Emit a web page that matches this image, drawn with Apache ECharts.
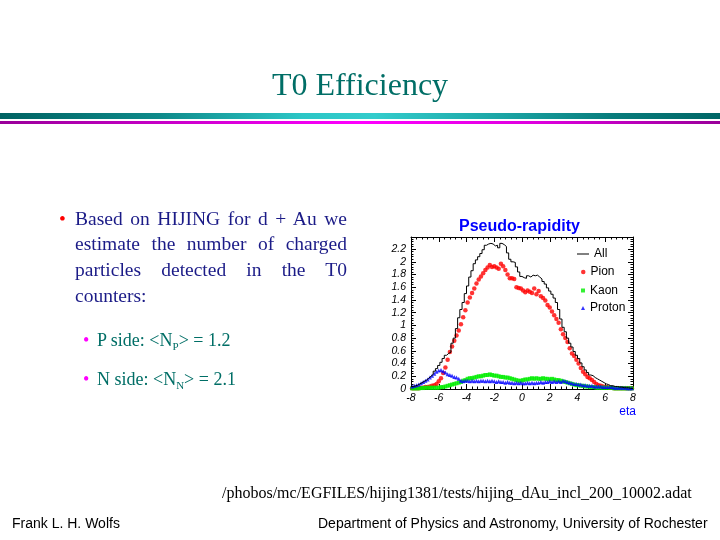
<!doctype html>
<html>

<head>
	<meta charset="utf-8">
	<style>
		html, body { margin: 0; padding: 0; background: #fff; }
		#slide { position: relative; width: 720px; height: 540px; overflow: hidden; }
		#chart { position: absolute; left: 0; top: 0; width: 720px; height: 540px; }
		.t { position: absolute; white-space: nowrap; line-height: 1; }
		.serif { font-family: "Liberation Serif", "Times New Roman", serif; }
		.sans { font-family: "Liberation Sans", Arial, sans-serif; }
		.bar1 { position: absolute; left: 0; top: 113px; width: 720px; height: 6px;
			background: linear-gradient(to right, #006262 0%, #0e8a8a 22%, #2cc6c6 42%, #33cccc 52%, #1aa4a4 70%, #087c7c 85%, #006666 100%); }
		.bar2 { position: absolute; left: 0; top: 121px; width: 720px; height: 3px;
			background: linear-gradient(to right, #990099 0%, #cc00cc 25%, #ff00ff 50%, #dd00dd 75%, #990099 100%); }
		.just { position: absolute; left: 75px; width: 272px; font-size: 19.5px; line-height: 1;
			color: #1b1b87; text-align: justify; text-align-last: justify; white-space: normal; }
		.sub { color: #006e66; font-size: 18px; }
	</style>
</head>

<body>
	<div id="slide">
		<div id="chart"></div>

		<div class="t serif" style="left:0;width:720px;text-align:center;top:68px;font-size:32px;color:#006e66">T0 Efficiency</div>
		<div class="bar1"></div>
		<div class="bar2"></div>

		<div class="t serif" style="left:59px;top:208.7px;font-size:19.5px;color:#ff0000">&bull;</div>
		<div class="just serif" style="top:208.7px">Based on HIJING for d + Au we</div>
		<div class="just serif" style="top:234.4px">estimate the number of charged</div>
		<div class="just serif" style="top:260.4px">particles detected in the T0</div>
		<div class="t serif" style="left:75px;top:286.4px;font-size:19.5px;color:#1b1b87">counters:</div>

		<div class="t serif" style="left:83px;top:330.6px;font-size:18px;color:#ff00ff">&bull;</div>
		<div class="t serif sub" style="left:97px;top:330.6px">P side: &lt;N<span style="font-size:11px;vertical-align:-4px">P</span>&gt; = 1.2</div>
		<div class="t serif" style="left:83px;top:369.9px;font-size:18px;color:#ff00ff">&bull;</div>
		<div class="t serif sub" style="left:97px;top:369.9px">N side: &lt;N<span style="font-size:11px;vertical-align:-4px">N</span>&gt; = 2.1</div>

		<div class="t serif" style="left:222px;top:484.6px;font-size:16px;color:#000">/phobos/mc/EGFILES/hijing1381/tests/hijing_dAu_incl_200_10002.adat</div>
		<div class="t sans" style="left:12px;top:516px;font-size:14px;color:#000">Frank L. H. Wolfs</div>
		<div class="t sans" style="left:318px;top:516px;font-size:14px;color:#000">Department of Physics and Astronomy, University of Rochester</div>
	</div>
</body>
<script src="https://cdn.jsdelivr.net/npm/echarts@6.0.0/dist/echarts.min.js"></script>

<script type="text/javascript">
	// histogram range (eta), 100 bins
	var ETA_MIN = -8;
	var ETA_MAX = 8;

	var allCounts = [
		0.04, 0.05, 0.06, 0.08, 0.10, 0.12, 0.14, 0.17, 0.20, 0.23,
		0.28, 0.32, 0.37, 0.42, 0.48, 0.53, 0.56, 0.58, 0.72, 0.80,
		0.95, 1.12, 1.25, 1.36, 1.50, 1.62, 1.76, 1.86, 1.97, 2.03,
		2.08, 2.13, 2.19, 2.26, 2.28, 2.29, 2.28, 2.25, 2.26, 2.22,
		2.29, 2.27, 2.24, 2.14, 2.04, 2.00, 1.99, 1.92, 1.84, 1.77,
		1.75, 1.74, 1.78, 1.76, 1.79, 1.78, 1.79, 1.76, 1.73, 1.69,
		1.65, 1.59, 1.54, 1.49, 1.43, 1.36, 1.25, 1.10, 0.97, 0.90,
		0.80, 0.72, 0.66, 0.59, 0.53, 0.48, 0.41, 0.35, 0.30, 0.26,
		0.22, 0.21, 0.18, 0.16, 0.14, 0.12, 0.10, 0.08, 0.07, 0.05,
		0.05, 0.04, 0.04, 0.03, 0.03, 0.02, 0.02, 0.02, 0.01, 0.01
	];
	var pionCounts = [
		0.01, 0.01, 0.01, 0.01, 0.02, 0.02, 0.03, 0.03, 0.04, 0.05,
		0.06, 0.08, 0.12, 0.17, 0.25, 0.34, 0.46, 0.58, 0.67, 0.76,
		0.84, 0.92, 1.02, 1.13, 1.24, 1.36, 1.44, 1.51, 1.58, 1.66,
		1.72, 1.77, 1.82, 1.87, 1.91, 1.95, 1.92, 1.93, 1.91, 1.89,
		1.97, 1.93, 1.87, 1.80, 1.74, 1.74, 1.73, 1.60, 1.59, 1.58,
		1.55, 1.52, 1.55, 1.53, 1.51, 1.58, 1.49, 1.54, 1.46, 1.43,
		1.39, 1.32, 1.28, 1.22, 1.16, 1.10, 1.04, 0.94, 0.86, 0.80,
		0.74, 0.64, 0.56, 0.52, 0.46, 0.40, 0.33, 0.27, 0.23, 0.19,
		0.17, 0.14, 0.11, 0.08, 0.06, 0.05, 0.04, 0.03, 0.03, 0.02,
		0.02, 0.01, 0.01, 0.01, 0.01, 0.01, 0.01, 0.01, 0.01, 0.01
	];
	var kaonCounts = [
		0.01, 0.01, 0.01, 0.01, 0.015, 0.015, 0.02, 0.02, 0.02, 0.02,
		0.02, 0.02, 0.02, 0.03, 0.03, 0.04, 0.05, 0.06, 0.07, 0.08,
		0.09, 0.10, 0.11, 0.13, 0.14, 0.16, 0.17, 0.17, 0.18, 0.19,
		0.20, 0.20, 0.21, 0.22, 0.22, 0.23, 0.22, 0.21, 0.21, 0.20,
		0.19, 0.19, 0.18, 0.18, 0.17, 0.16, 0.15, 0.14, 0.13, 0.13,
		0.14, 0.15, 0.15, 0.16, 0.17, 0.16, 0.17, 0.16, 0.16, 0.17,
		0.16, 0.16, 0.15, 0.16, 0.15, 0.14, 0.14, 0.13, 0.12, 0.11,
		0.10, 0.09, 0.08, 0.07, 0.06, 0.06, 0.05, 0.05, 0.04, 0.04,
		0.03, 0.03, 0.03, 0.02, 0.02, 0.02, 0.02, 0.02, 0.02, 0.02,
		0.02, 0.01, 0.01, 0.01, 0.01, 0.01, 0.01, 0.01, 0.01, 0.01
	];
	var protonCounts = [
		0.04, 0.05, 0.06, 0.07, 0.09, 0.11, 0.13, 0.15, 0.18, 0.21,
		0.24, 0.27, 0.29, 0.30, 0.28, 0.26, 0.23, 0.22, 0.21, 0.19,
		0.18, 0.16, 0.13, 0.12, 0.13, 0.13, 0.12, 0.13, 0.12, 0.13,
		0.12, 0.13, 0.13, 0.12, 0.13, 0.12, 0.13, 0.12, 0.11, 0.12,
		0.11, 0.11, 0.10, 0.11, 0.10, 0.10, 0.09, 0.10, 0.09, 0.10,
		0.09, 0.09, 0.10, 0.09, 0.10, 0.09, 0.10, 0.10, 0.11, 0.10,
		0.11, 0.11, 0.12, 0.11, 0.12, 0.11, 0.12, 0.11, 0.13, 0.12,
		0.11, 0.10, 0.09, 0.08, 0.08, 0.07, 0.07, 0.06, 0.06, 0.05,
		0.05, 0.05, 0.04, 0.04, 0.04, 0.04, 0.03, 0.03, 0.03, 0.03,
		0.03, 0.02, 0.02, 0.02, 0.02, 0.02, 0.02, 0.01, 0.01, 0.01
	];

	var binWidth = (ETA_MAX - ETA_MIN) / allCounts.length;

	// step outline: each bin gives a flat segment from its low to its high edge
	function histSteps(counts) {
		var pts = [];
		counts.forEach(function(v, i) {
			var lo = ETA_MIN + i * binWidth;
			pts.push([lo, v], [lo + binWidth, v]);
		});
		return pts;
	}
	function binPoints(counts) {
		return counts.map(function(v, i) {
			return [ETA_MIN + (i + 0.5) * binWidth, v];
		});
	}

	var labelFont = {
		color: '#000',
		fontFamily: 'Liberation Sans',
		fontStyle: 'italic',
		fontSize: 10.5
	};
	var tickStyle = { color: '#000', width: 1 };

	function xAxisOpt(pos, withLabels) {
		return {
			type: 'value',
			position: pos,
			min: ETA_MIN,
			max: ETA_MAX,
			interval: 2,
			axisLine: { show: true, onZero: false, lineStyle: tickStyle },
			axisTick: { show: true, inside: true, length: 5, lineStyle: tickStyle },
			minorTick: { show: true, splitNumber: 5, length: 2.5, lineStyle: tickStyle },
			splitLine: { show: false },
			axisLabel: Object.assign({ show: withLabels, margin: 4 }, labelFont)
		};
	}
	function yAxisOpt(pos, withLabels) {
		return {
			type: 'value',
			position: pos,
			min: 0,
			max: 2.39,
			interval: 0.2,
			axisLine: { show: true, onZero: false, lineStyle: tickStyle },
			axisTick: { show: true, inside: true, length: 5, lineStyle: tickStyle },
			minorTick: { show: true, splitNumber: 5, length: 2.5, lineStyle: tickStyle },
			splitLine: { show: false },
			axisLabel: Object.assign({ show: withLabels, margin: 5, showMaxLabel: false }, labelFont)
		};
	}

	function legendItem(name, left, top, size, icon) {
		return {
			data: [icon ? { name: name, icon: icon } : name],
			orient: 'vertical',
			left: left,
			top: top,
			padding: 0,
			itemWidth: size[0],
			itemHeight: size[1],
			selectedMode: false,
			textStyle: { color: '#000', fontFamily: 'Liberation Sans', fontSize: 12, lineHeight: 12 }
		};
	}

	var xBottom = xAxisOpt('bottom', true);
	xBottom.name = 'eta';
	xBottom.nameLocation = 'end';
	xBottom.nameGap = 3;
	xBottom.nameTextStyle = {
		color: '#0000ff', fontFamily: 'Liberation Sans', fontSize: 12,
		align: 'right', verticalAlign: 'top', padding: [17, 0, 0, 0]
	};

	var myChart = echarts.init(document.getElementById('chart'), null, { renderer: 'canvas' });
	var option = {
		animation: false,
		title: {
			text: 'Pseudo-rapidity',
			left: 459,
			top: 219,
			padding: 0,
			textStyle: {
				color: '#0000ff',
				fontFamily: 'Liberation Sans',
				fontWeight: 'bold',
				fontSize: 16,
				lineHeight: 16
			}
		},
		legend: [
			legendItem('All', 577, 248, [12, 1.2], 'path://M0,0H12V1H0Z'),
			legendItem('Pion', 581, 266, [4.5, 4.5]),
			legendItem('Kaon', 581, 284.5, [4, 4]),
			legendItem('Proton', 581, 302, [4, 4])
		],
		grid: { left: 411, top: 237, width: 222, height: 152 },
		xAxis: [xBottom, xAxisOpt('top', false)],
		yAxis: [yAxisOpt('left', true), yAxisOpt('right', false)],
		series: [
			{
				name: 'All',
				type: 'line',
				data: histSteps(allCounts),
				symbol: 'none',
				showSymbol: false,
				lineStyle: { color: '#000', width: 1 },
				itemStyle: { color: '#000' }
			},
			{
				name: 'Pion',
				type: 'scatter',
				data: binPoints(pionCounts),
				symbol: 'circle',
				symbolSize: 4.5,
				itemStyle: { color: '#ff0000' }
			},
			{
				name: 'Kaon',
				type: 'scatter',
				data: binPoints(kaonCounts),
				symbol: 'rect',
				symbolSize: 4,
				itemStyle: { color: '#00ee00' }
			},
			{
				name: 'Proton',
				type: 'scatter',
				data: binPoints(protonCounts),
				symbol: 'triangle',
				symbolSize: 4,
				itemStyle: { color: '#0000ff' }
			}
		]
	};
	myChart.setOption(option);
</script>

</html>
